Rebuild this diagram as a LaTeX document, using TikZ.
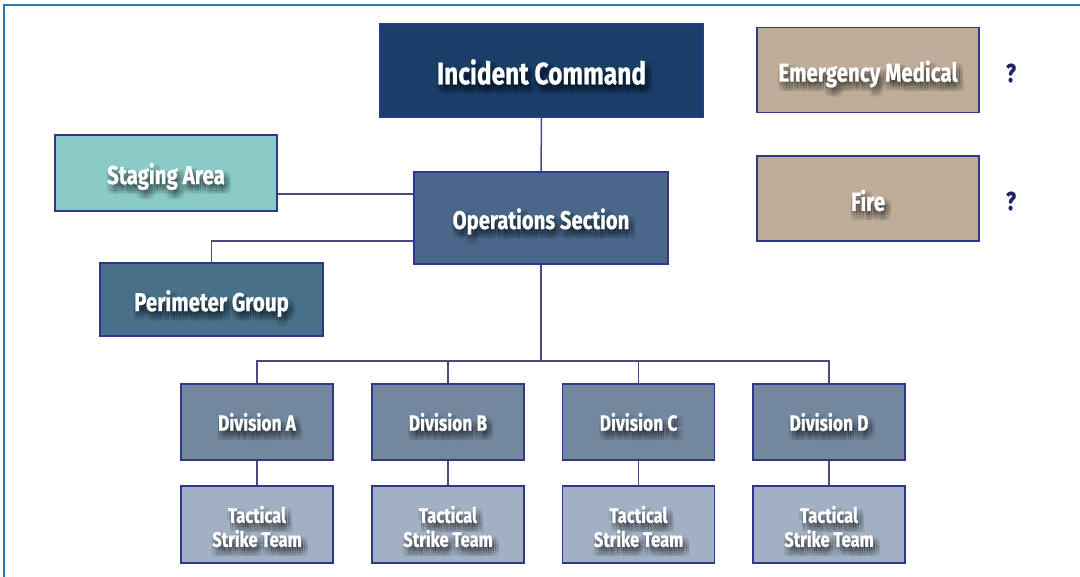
\documentclass[tikz,border=0pt]{standalone}
\usepackage{fontspec}
\newfontfamily\lblfont[FakeStretch=0.79,BoldFeatures={FakeBold=0.7}]{Fira Sans}

\definecolor{frameblue}{HTML}{2A7AB4}
\definecolor{edgeblue}{HTML}{30368A}
\definecolor{wire}{HTML}{4A4A80}
\definecolor{cmdfill}{HTML}{1B3E68}
\definecolor{opsfill}{HTML}{496789}
\definecolor{stagefill}{HTML}{8BCBC7}
\definecolor{perimfill}{HTML}{497089}
\definecolor{tanfill}{HTML}{BDAD99}
\definecolor{divfill}{HTML}{73889F}
\definecolor{tacfill}{HTML}{A1B0C2}
\definecolor{qnavy}{HTML}{23246A}

% box with a soft drop shadow behind its white label;
% #5 moves the label down (in pixels) inside the box
\newcommand\orgbox[5]{%
  \node[orgframe,#2] (#1) at #3 {};
  \foreach \dx in {-1,1.5,4,6.5}{
    \foreach \dy in {1.5,4,6.5,9}{
      \node[#2,orglabel,text=black,text opacity=0.05]
        at ([shift={(\dx,\dy+#5)}]#1.center) {#4};
    }
  }
  \node[#2,orglabel] at ([shift={(0,#5)}]#1.center) {#4};
}

\begin{document}
\begin{tikzpicture}[x=0.5pt,y=-0.5pt,
  orgframe/.style={draw=edgeblue,line width=0.6pt,inner sep=0pt},
  orglabel/.style={fill=none,draw=none,minimum width=0pt,minimum height=0pt,
    inner sep=0pt,align=center,text=white},
  cmdbox/.style={fill=cmdfill,minimum width=161.5pt,minimum height=46.5pt,
    font=\lblfont\bfseries\fontsize{15.5}{18}\selectfont},
  opsbox/.style={fill=opsfill,minimum width=127pt,minimum height=46pt,
    font=\lblfont\bfseries\fontsize{12.8}{15}\selectfont},
  stagebox/.style={fill=stagefill,minimum width=111pt,minimum height=38pt,
    font=\lblfont\bfseries\fontsize{13}{15}\selectfont},
  perimbox/.style={fill=perimfill,minimum width=111.5pt,minimum height=36.5pt,
    font=\lblfont\bfseries\fontsize{13}{15}\selectfont},
  tanbox/.style={fill=tanfill,minimum width=111pt,minimum height=42.5pt,
    font=\lblfont\bfseries\fontsize{13}{15}\selectfont},
  divbox/.style={fill=divfill,minimum width=76pt,minimum height=38pt,
    font=\lblfont\bfseries\fontsize{11}{13}\selectfont},
  tacbox/.style={fill=tacfill,minimum width=76pt,minimum height=38.5pt,
    font=\lblfont\bfseries\fontsize{10.5}{12}\selectfont},
  wireline/.style={draw=wire,line width=0.75pt},
  qmark/.style={text=qnavy,font=\lblfont\bfseries\fontsize{13}{15}\selectfont,inner sep=0pt}
]
\useasboundingbox (0,0) rectangle (1080,577);
\fill[white] (0,0) rectangle (1080,577);

% frame along the top and left edges
\draw[frameblue,line width=1.3pt] (4,577) -- (4,5) -- (1080,5);

% connector heights
\coordinate (stagey) at (0,194);
\coordinate (perimy) at (0,241);
\coordinate (busy) at (0,361);

% boxes
\orgbox{ic}{cmdbox}{(541.5,70.5)}{Incident Command}{1.5}
\orgbox{em}{tanbox}{(868,70)}{Emergency Medical}{4}
\orgbox{fire}{tanbox}{(868,198.5)}{Fire}{2}
\orgbox{stage}{stagebox}{(166,173)}{Staging Area}{3.5}
\orgbox{ops}{opsbox}{(541,218)}{Operations Section}{3.5}
\orgbox{perim}{perimbox}{(211.5,299.5)}{Perimeter Group}{4}

\orgbox{divA}{divbox}{(257,422)}{Division A}{0}
\orgbox{divB}{divbox}{(448,422)}{Division B}{0}
\orgbox{divC}{divbox}{(638.5,422)}{Division C}{0}
\orgbox{divD}{divbox}{(829,422)}{Division D}{0}

\orgbox{tacA}{tacbox}{(257,524.5)}{Tactical\\Strike Team}{2}
\orgbox{tacB}{tacbox}{(448,524.5)}{Tactical\\Strike Team}{2}
\orgbox{tacC}{tacbox}{(638.5,524.5)}{Tactical\\Strike Team}{2}
\orgbox{tacD}{tacbox}{(829,524.5)}{Tactical\\Strike Team}{2}

\node[qmark] (q1) at (1011,73) {?};
\node[qmark] (q2) at (1011,201) {?};

% reporting lines
\draw[wireline] (ic.south) -- (ops.north);
\draw[wireline] (stage.east |- stagey) -- (ops.west |- stagey);
\draw[wireline] (ops.west |- perimy) -| (perim.north);
\draw[wireline] (ops.south) -- (ops.south |- busy);
\draw[wireline] (divA.north) |- (divD.north |- busy) -- (divD.north);
\draw[wireline] (divB.north) -- (divB.north |- busy);
\draw[wireline] (divC.north) -- (divC.north |- busy);
\foreach \c in {A,B,C,D}{
  \draw[wireline] (div\c.south) -- (tac\c.north);
}
\end{tikzpicture}
\end{document}
